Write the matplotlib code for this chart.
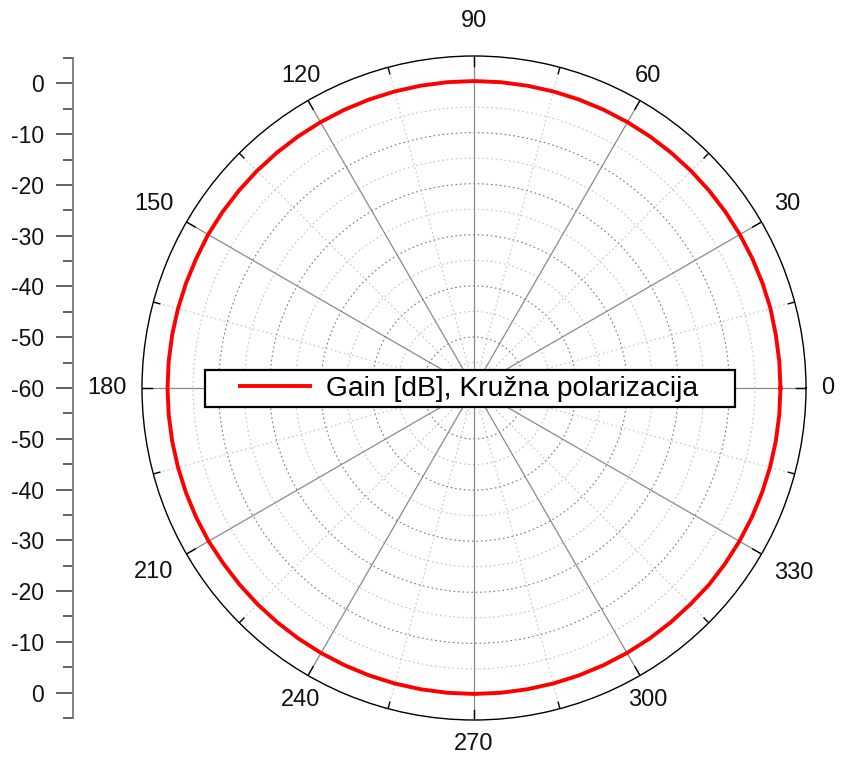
import numpy as np
import matplotlib
matplotlib.use("Agg")
import matplotlib.pyplot as plt
from matplotlib.patches import Rectangle

plt.rcParams['font.family'] = ['Liberation Sans', 'DejaVu Sans']

# Data
angles_deg = [0, 5, 10, 15, 20, 25, 30, 35, 40, 45, 50, 55, 60, 65, 70, 75, 80, 85,
              90, 95, 100, 105, 110, 115, 120, 125, 130, 135, 140, 145, 150, 155, 160, 165, 170, 175,
              180, 185, 190, 195, 200, 205, 210, 215, 220, 225, 230, 235, 240, 245, 250, 255, 260, 265,
              270, 275, 280, 285, 290, 295, 300, 305, 310, 315, 320, 325, 330, 335, 340, 345, 350, 355, 360]
gain_db = [0.0, 0.0, 0.0, 0.1, 0.1, 0.1, 0.1, 0.1, 0.1, 0.1, 0.1, 0.1, 0.1, 0.1, 0.1, 0.1, 0.1, 0.1,
           0.1, 0.1, 0.1, 0.1, 0.1, 0.1, 0.1, 0.1, 0.1, 0.1, 0.1, 0.1, 0.1, 0.0, 0.0, 0.0, 0.0, 0.0,
           0.0, 0.0, 0.0, 0.0, 0.0, 0.0, 0.0, -0.1, -0.1, -0.1, -0.1, -0.1, -0.1, -0.1, -0.1, -0.1, -0.1, -0.1,
           -0.1, -0.1, -0.1, -0.1, -0.1, -0.1, -0.1, -0.1, -0.1, -0.1, 0.0, 0.0, 0.0, 0.0, 0.0, 0.0, 0.0, 0.0, 0.0]
theta_labels = ['0', '30', '60', '90', '120', '150', '180', '210', '240', '270', '300', '330']
r_min, r_max = -60, 5
legend_label = 'Gain [dB], Kružna polarizacija'

W, H = 841, 757
fig = plt.figure(figsize=(W / 100, H / 100), dpi=100)

cx, cy, R = 474, 388, 332
ax = fig.add_axes([(cx - R) / W, (H - cy - R) / H, 2 * R / W, 2 * R / H], projection='polar')
ax.set_ylim(r_min, r_max)
ax.set_xticks([])
ax.set_yticks([])
ax.grid(False)
ax.spines['polar'].set_color('black')
ax.spines['polar'].set_linewidth(1.0)

tt = np.linspace(0, 2 * np.pi, 721)
# concentric dotted circles
for rv in range(-55, 5, 5):
    if rv % 10 == 0:
        ax.plot(tt, np.full_like(tt, rv), color='#7a7a7a', lw=0.8, ls=(0, (1.5, 2.5)), zorder=1)
    else:
        ax.plot(tt, np.full_like(tt, rv), color='#c4c4c4', lw=0.8, ls=(0, (1.5, 2.5)), zorder=1)
# spokes
for a in range(0, 360, 15):
    th = np.deg2rad(a)
    if a % 30 == 0:
        ax.plot([th, th], [r_min, r_max], color='#8a8a8a', lw=0.9, zorder=1)
    else:
        ax.plot([th, th], [r_min, r_max], color='#c4c4c4', lw=0.8, ls=(0, (1.5, 2.5)), zorder=1)
# outer ticks
for a in range(0, 360, 15):
    th = np.deg2rad(a)
    ln = 2.0 if a % 30 == 0 else 1.3
    ax.plot([th, th], [r_max - ln, r_max], color='black', lw=1.0, zorder=3)

# data line
line, = ax.plot(np.deg2rad(angles_deg), gain_db, color='#ff0000', lw=2.8, zorder=4, label=legend_label)

# theta labels
for i, lab in enumerate(theta_labels):
    a = np.deg2rad(30 * i)
    c, s = np.cos(a), np.sin(a)
    ha = 'left' if c > 0.6 else ('right' if c < -0.6 else 'center')
    va = 'bottom' if s > 0.1 else ('top' if s < -0.1 else 'center')
    d = 15
    if abs(c) < 0.1:
        d = 24 if s > 0 else 13
    ax.annotate(lab, xy=(a, r_max), xytext=(d * c, d * s), textcoords='offset pixels',
                ha=ha, va=va, fontsize=17, color='#111111', annotation_clip=False)

# legend frame + legend
box = Rectangle((205 / W, 1 - 407 / H), 530 / W, 37 / H, transform=fig.transFigure,
                facecolor='white', edgecolor='black', lw=1.6, zorder=8)
fig.patches.append(box)
leg = fig.legend(handles=[line], loc='center', bbox_to_anchor=(469 / W, 1 - 388.5 / H),
                 fontsize=20.3, frameon=False, handlelength=2.5, handletextpad=0.58,
                 borderpad=0.1, borderaxespad=0)
leg.set_zorder(10)

# left linear axis
lax = fig.add_axes([73 / W, (H - 718) / H, 0.001, 660 / H])
lax.set_ylim(-65, 65)
lax.set_xticks([])
for sp in ['top', 'right', 'bottom']:
    lax.spines[sp].set_visible(False)
lax.spines['left'].set_color('#777777')
lax.spines['left'].set_linewidth(1.3)
major = list(range(-60, 61, 10))
lax.set_yticks(major)
lax.set_yticklabels([str(abs(v) - 60) for v in major])
lax.set_yticks(list(range(-65, 66, 10)), minor=True)
lax.tick_params(axis='y', which='major', length=12, width=1.3, color='#555555', pad=9,
                labelsize=16.5, labelcolor='#111111')
lax.tick_params(axis='y', which='minor', length=7, width=1.3, color='#555555')
lax.patch.set_visible(False)

fig.savefig('out.png', dpi=100)
